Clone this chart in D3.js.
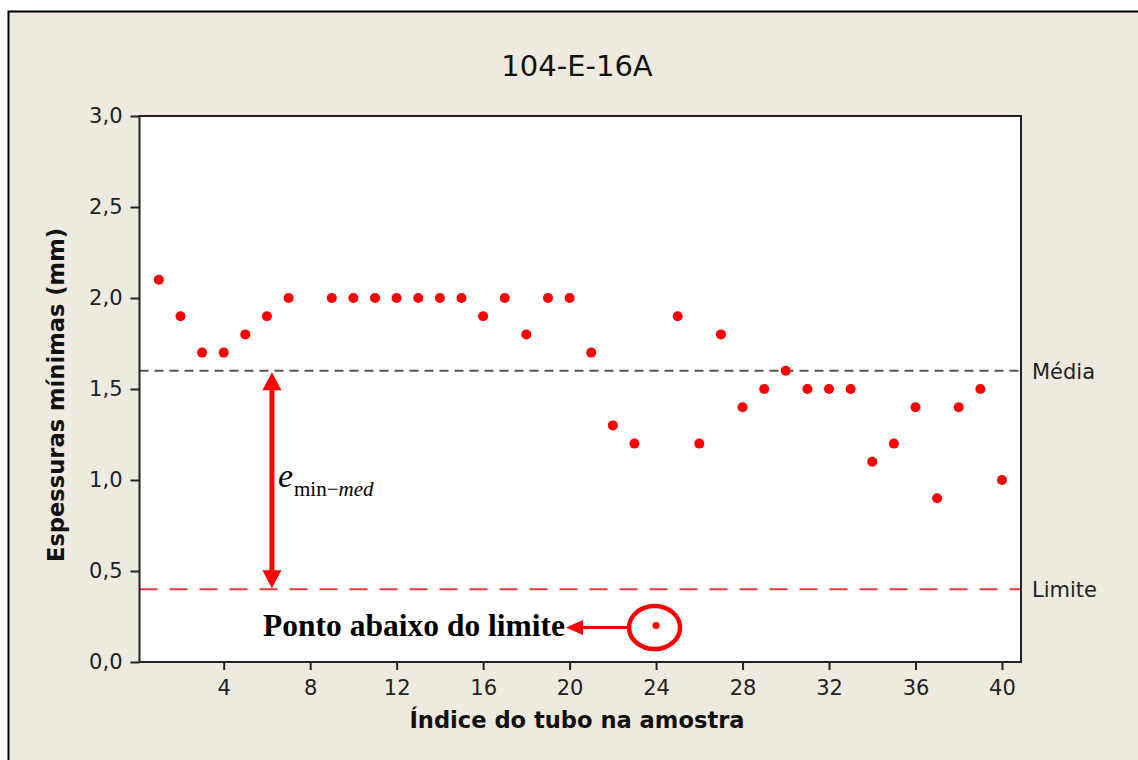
<!DOCTYPE html>
<html><head><meta charset="utf-8">
<script src="https://cdn.jsdelivr.net/npm/d3@7"></script>
<style>body{margin:0;background:#fff}svg{display:block}</style>
</head><body>
<svg id="c" width="1138" height="760"></svg>
<script>
const title = "104-E-16A";
const xLabel = "Índice do tubo na amostra";
const yLabel = "Espessuras mínimas (mm)";
const tubeIndex = [1,2,3,4,5,6,7,9,10,11,12,13,14,15,16,17,18,19,20,21,22,23,24,25,26,27,28,29,30,31,32,33,34,35,36,37,38,39,40];
const thickness = [2.1,1.9,1.7,1.7,1.8,1.9,2.0,2.0,2.0,2.0,2.0,2.0,2.0,2.0,1.9,2.0,1.8,2.0,2.0,1.7,1.3,1.2,0.2,1.9,1.2,1.8,1.4,1.5,1.6,1.5,1.5,1.5,1.1,1.2,1.4,0.9,1.4,1.5,1.0];
const xTicks = [4,8,12,16,20,24,28,32,36,40];
const yTicks = [0,0.5,1.0,1.5,2.0,2.5,3.0];
const refLines = [{name:"Média", value:1.6}, {name:"Limite", value:0.4}];
const outlierIndex = 24;
const annotText = "Ponto abaixo do limite";

const svg = d3.select("#c");
const L=139.5, R=1021, T=116, B=662;
const x = d3.scaleLinear().domain([0.105, 40.88]).range([L, R]);
const y = d3.scaleLinear().domain([0, 3]).range([B, T]);

svg.append("rect").attr("x",8.5).attr("y",11.5).attr("width",1200).attr("height",800)
  .attr("fill","#eeeae0").attr("stroke","#000").attr("stroke-width",2);

svg.append("rect").attr("x",L).attr("y",T).attr("width",R-L).attr("height",B-T)
  .attr("fill","#fff");

svg.append("text").attr("x",577).attr("y",76).attr("text-anchor","middle")
  .attr("font-family","DejaVu Sans").attr("font-size",29).attr("fill","#111").text(title);

const fmt = d => d3.format(".1f")(d).replace(".", ",");
const ya = svg.append("g").attr("transform",`translate(${L},0)`)
  .call(d3.axisLeft(y).tickValues(yTicks).tickFormat(fmt).tickSize(9).tickSizeOuter(0).tickPadding(8));
const xa = svg.append("g").attr("transform",`translate(0,${B})`)
  .call(d3.axisBottom(x).tickValues(xTicks).tickSize(8).tickSizeOuter(0).tickPadding(10));
[ya,xa].forEach(g=>{
  g.select(".domain").remove();
  g.selectAll("line").attr("stroke","#222").attr("stroke-width",2);
  g.selectAll("text").attr("font-family","DejaVu Sans").attr("font-size",21).attr("fill","#222");
});

// reference lines
svg.append("line").attr("x1",L).attr("x2",R).attr("y1",y(1.6)).attr("y2",y(1.6))
  .attr("stroke","#555").attr("stroke-width",2).attr("stroke-dasharray","9,6");
svg.append("line").attr("x1",L).attr("x2",R).attr("y1",y(0.4)).attr("y2",y(0.4))
  .attr("stroke","#f03a3a").attr("stroke-width",2).attr("stroke-dasharray","18,12");
svg.selectAll(".reflab").data(refLines).join("text")
  .attr("x",R+11).attr("y",d=>y(d.value)+8)
  .attr("font-family","DejaVu Sans").attr("font-size",21).attr("fill","#222").text(d=>d.name);

// frame
svg.append("rect").attr("x",L).attr("y",T).attr("width",R-L).attr("height",B-T)
  .attr("fill","none").attr("stroke","#222").attr("stroke-width",2);

// points
const pts = tubeIndex.map((t,i)=>({t, v:thickness[i]}));
svg.selectAll(".pt").data(pts).join("circle")
  .attr("cx",d=>x(d.t)).attr("cy",d=>y(d.v)).attr("r",d=>d.t===outlierIndex?3.5:5)
  .attr("fill","#ff0000");

// double arrow between mean and limit
const ax = x(6.23), yTop = y(1.6)+1.5, yBot = y(0.4)-1;
const hh = 18, hw = 9.5;
svg.append("line").attr("x1",ax).attr("x2",ax).attr("y1",yTop+hh-2).attr("y2",yBot-hh+2)
  .attr("stroke","#ff0000").attr("stroke-width",5);
svg.append("path").attr("d",`M${ax},${yTop} L${ax-hw},${yTop+hh} L${ax+hw},${yTop+hh} Z`).attr("fill","#ff0000");
svg.append("path").attr("d",`M${ax},${yBot} L${ax-hw},${yBot-hh} L${ax+hw},${yBot-hh} Z`).attr("fill","#ff0000");

const et = svg.append("text").attr("x",ax+6).attr("y",487)
  .attr("font-family","Liberation Serif").attr("fill","#000");
et.append("tspan").attr("font-size",34).attr("font-style","italic").text("e");
et.append("tspan").attr("font-size",21).attr("dy",9).attr("dx",1).text("min\u2212");
et.append("tspan").attr("font-size",21).attr("font-style","italic").text("med");

// outlier annotation
const ox = x(outlierIndex)-1.5, oy = y(0.2)+2;
const rx = 25.5, ry = 21.5;
svg.append("ellipse").attr("cx",ox).attr("cy",oy).attr("rx",rx).attr("ry",ry)
  .attr("fill","none").attr("stroke","#ff0000").attr("stroke-width",4.5);
const tipX = 566, ay = oy;
svg.append("line").attr("x1",ox-rx-2).attr("x2",tipX+14).attr("y1",ay).attr("y2",ay)
  .attr("stroke","#ff0000").attr("stroke-width",3);
svg.append("path").attr("d",`M${tipX},${ay} L${tipX+17},${ay-7.5} L${tipX+17},${ay+7.5} Z`).attr("fill","#ff0000");
svg.append("text").attr("x",tipX-1).attr("y",636).attr("text-anchor","end")
  .attr("font-family","Liberation Serif").attr("font-weight","bold").attr("font-size",31.5)
  .attr("fill","#000").text(annotText);

// axis titles
svg.append("text").attr("x",577).attr("y",728).attr("text-anchor","middle")
  .attr("font-family","DejaVu Sans").attr("font-weight","bold").attr("font-size",22.6)
  .attr("fill","#111").text(xLabel);
svg.append("text").attr("transform","translate(64,395) rotate(-90)").attr("text-anchor","middle")
  .attr("font-family","DejaVu Sans").attr("font-weight","bold").attr("font-size",22.6)
  .attr("fill","#111").text(yLabel);
</script>
</body></html>
